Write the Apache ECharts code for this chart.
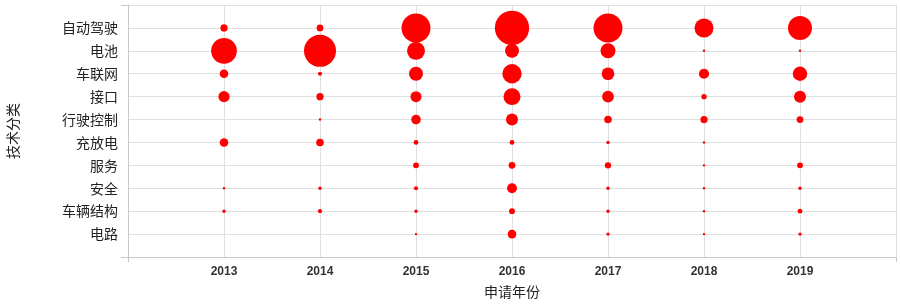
<!DOCTYPE html>
<html>
<head>
<meta charset="utf-8">
<script src="https://cdn.jsdelivr.net/npm/echarts@6/dist/echarts.min.js"></script>
<style>html,body{margin:0;padding:0;background:#fff}#c{width:900px;height:304px}</style>
</head>
<body>
<div id="c"></div>
<script>
const categories = ['自动驾驶','电池','车联网','接口','行驶控制','充放电','服务','安全','车辆结构','电路'];
const years = [2013, 2014, 2015, 2016, 2017, 2018, 2019];
// counts per category, by year 2013..2019
const v自动驾驶 = [9, 8, 146, 205, 146, 63, 100];
const v电池     = [115, 178, 56, 34, 39, 1, 1];
const v车联网   = [13, 3, 34, 65, 28, 18, 36];
const v接口     = [22, 9, 21, 50, 24, 5, 25];
const v行驶控制 = [0, 1, 16, 25, 10, 9, 8];
const v充放电   = [13, 10, 4, 4, 2, 1, 0];
const v服务     = [0, 0, 6, 8, 7, 1, 6];
const v安全     = [1, 2, 3, 17, 2, 1, 2];
const v车辆结构 = [2, 3, 2, 6, 2, 1, 4];
const v电路     = [0, 0, 1, 13, 2, 1, 2];
const rows = [v自动驾驶, v电池, v车联网, v接口, v行驶控制, v充放电, v服务, v安全, v车辆结构, v电路];

const data = [];
rows.forEach((r, ci) => r.forEach((v, yi) => { if (v > 0) data.push([years[yi], ci, v]); }));

const lineCol = '#c8c8c8';
const gridCol = '#e0e0e0';
const cjk = '"Noto Sans CJK SC", sans-serif';

const chart = echarts.init(document.getElementById('c'), null, {renderer: 'canvas'});
chart.setOption({
  animation: false,
  grid: {left: 128, right: 4, top: 5, bottom: 47, containLabel: false, outerBoundsMode: 'none'},
  xAxis: [{
    type: 'value', min: 2012, max: 2020, interval: 1,
    name: '申请年份', nameLocation: 'middle', nameGap: 28,
    nameTextStyle: {fontSize: 14, color: '#222', fontFamily: cjk},
    axisLine: {show: true, onZero: false, lineStyle: {color: lineCol, width: 1}},
    axisTick: {show: false},
    axisLabel: {fontSize: 12, fontWeight: 'bold', color: '#333', margin: 9,
      fontFamily: '"Liberation Sans", Arial, sans-serif',
      formatter: v => (years.indexOf(v) >= 0 ? String(v) : '')},
    splitLine: {show: true, lineStyle: {color: gridCol, width: 1}}
  }, {
    type: 'value', min: 2012, max: 2020, position: 'bottom',
    axisLine: {show: false, onZero: false},
    axisTick: {show: true, customValues: [2012, 2020], length: 5, lineStyle: {color: lineCol}},
    axisLabel: {show: false}, splitLine: {show: false}
  }],
  yAxis: [{
    type: 'value', min: -1, max: 10, interval: 1, inverse: true,
    name: '技术分类', nameLocation: 'middle', nameGap: 108, nameRotate: 90,
    nameTextStyle: {fontSize: 14, color: '#222', fontFamily: cjk},
    axisLine: {show: true, onZero: false, lineStyle: {color: lineCol, width: 1}},
    axisTick: {show: false},
    axisLabel: {formatter: v => categories[v] || '',
      fontSize: 14, color: '#222', margin: 10, fontFamily: cjk},
    splitLine: {show: true, lineStyle: {color: gridCol, width: 1}}
  }, {
    type: 'value', min: -1, max: 10, inverse: true, position: 'left',
    axisLine: {show: false, onZero: false},
    axisTick: {show: true, customValues: [-1, 10], length: 7, lineStyle: {color: lineCol}},
    axisLabel: {show: false}, splitLine: {show: false}
  }],
  series: [{
    type: 'scatter',
    xAxisIndex: 0, yAxisIndex: 0,
    data: data,
    symbolSize: d => Math.sqrt(d[2]) * 2.4,
    itemStyle: {color: '#ff0000', opacity: 1},
    emphasis: {disabled: true}
  }]
});
</script>
</body>
</html>
